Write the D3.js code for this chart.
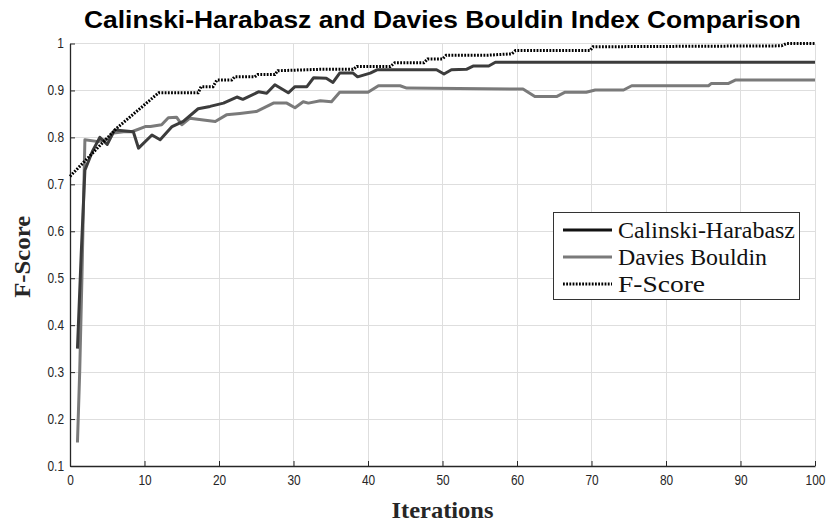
<!DOCTYPE html>
<html><head><meta charset="utf-8">
<script src="https://cdn.jsdelivr.net/npm/d3@7/dist/d3.min.js"></script>
<style>body{margin:0;background:#fff}svg{display:block}</style>
</head><body>
<svg id="chart" width="831" height="523"></svg>
<script>
const title = "Calinski-Harabasz and Davies Bouldin Index Comparison";
const xLabel = "Iterations";
const yLabel = "F-Score";
const xTicks = [0,10,20,30,40,50,60,70,80,90,100];
const yTicks = [0.1,0.2,0.3,0.4,0.5,0.6,0.7,0.8,0.9,1];
const seriesNames = ["Calinski-Harabasz","Davies Bouldin","F-Score"];

const chIter = [1,1.5,2,3,4,5,6,8.5,9.2,11,12.1,13.7,15.2,17.2,18.8,20.6,22.4,23.2,25.3,26.4,27.5,29.3,30.2,31.8,32.7,34.4,35.3,36.2,38,38.6,40.3,41.2,49.2,50.2,51.2,53.2,54.1,56.2,57.1,100];
const chVal  = [0.35,0.55,0.73,0.77,0.80,0.785,0.816,0.812,0.777,0.805,0.795,0.823,0.834,0.861,0.866,0.873,0.886,0.881,0.897,0.894,0.912,0.895,0.908,0.908,0.927,0.926,0.917,0.937,0.937,0.929,0.937,0.944,0.944,0.935,0.944,0.945,0.952,0.952,0.96,0.96];

const dbIter = [1,1.3,1.6,1.8,2,3.8,5.2,5.6,7.2,8.3,10.1,10.8,12.3,13.2,14.3,15,16.1,17.9,19.5,21,22.8,25,27.3,29.1,30.2,31.3,32,33.6,35.1,36.2,40,41.4,44.3,45.2,60.8,62.4,65.3,66.4,69.3,70.5,74.3,75.4,85.7,86.1,88.4,89.3,100];
const dbVal  = [0.15,0.30,0.50,0.65,0.795,0.791,0.797,0.809,0.812,0.812,0.823,0.823,0.827,0.842,0.843,0.827,0.841,0.837,0.834,0.848,0.851,0.855,0.873,0.873,0.863,0.876,0.873,0.878,0.876,0.896,0.896,0.91,0.91,0.905,0.903,0.887,0.887,0.896,0.896,0.901,0.901,0.91,0.91,0.915,0.915,0.922,0.922];

const fsIter = [0,6.3,11.9,17.2,17.6,19.2,19.7,21.7,22.1,24.8,25.2,27.5,27.9,33.6,38,38.5,43,43.6,47.5,48,50,50.5,56,59.3,59.8,69.8,70.2,95.5,96.2,100];
const fsVal  = [0.717,0.82,0.895,0.895,0.908,0.908,0.922,0.922,0.929,0.929,0.934,0.934,0.942,0.945,0.945,0.951,0.951,0.959,0.959,0.967,0.967,0.975,0.975,0.978,0.985,0.985,0.993,0.995,1.0,1.0];

const svg = d3.select("#chart");
const L = 70, R = 815, T = 43.5, B = 466;
const x = d3.scaleLinear().domain([0,100]).range([L,R]);
const y = d3.scaleLinear().domain([0.1,1]).range([B,T]);
const tickFont = "'Liberation Sans Narrow','Arial Narrow','Liberation Sans',Arial,sans-serif";

// grid
svg.append("g").selectAll("line").data(xTicks).join("line")
  .attr("x1",d=>x(d)).attr("x2",d=>x(d)).attr("y1",T).attr("y2",B)
  .attr("stroke","#dedede").attr("stroke-width",1).attr("shape-rendering","crispEdges");
svg.append("g").selectAll("line").data(yTicks).join("line")
  .attr("x1",L).attr("x2",R).attr("y1",d=>y(d)).attr("y2",d=>y(d))
  .attr("stroke","#dedede").attr("stroke-width",1).attr("shape-rendering","crispEdges");

// axes
const xAxis = svg.append("g").attr("transform",`translate(0,${B})`)
  .call(d3.axisBottom(x).tickValues(xTicks).tickSizeInner(-5).tickSizeOuter(0).tickPadding(9).tickFormat(d3.format("d")));
const yAxis = svg.append("g").attr("transform",`translate(${L},0)`)
  .call(d3.axisLeft(y).tickValues(yTicks).tickSizeInner(-5).tickSizeOuter(0).tickPadding(6).tickFormat(d=>d===1?"1":d.toFixed(1)));
[xAxis,yAxis].forEach(a=>{
  a.select(".domain").attr("stroke","#262626").attr("stroke-width",1.3);
  a.selectAll(".tick line").attr("stroke","#262626").attr("stroke-width",1);
  a.selectAll(".tick text").attr("fill","#262626").attr("font-size",14).attr("font-family",tickFont)
    .attr("textLength",function(){ return this.getComputedTextLength()*0.85; }).attr("lengthAdjust","spacingAndGlyphs");
});

// lines
const mk = (xs,vs)=>xs.map((d,i)=>[d,vs[i]]);
const line = d3.line().x(d=>x(d[0])).y(d=>y(d[1]));
svg.append("path").datum(mk(dbIter,dbVal)).attr("d",line)
  .attr("fill","none").attr("stroke","#7a7a7a").attr("stroke-width",3).attr("stroke-linejoin","round");
svg.append("path").datum(mk(chIter,chVal)).attr("d",line)
  .attr("fill","none").attr("stroke","#3c3c3c").attr("stroke-width",3).attr("stroke-linejoin","round");
svg.append("path").datum(mk(fsIter,fsVal)).attr("d",line)
  .attr("fill","none").attr("stroke","#000").attr("stroke-width",3).attr("stroke-dasharray","1.8,1.4");

// title
svg.append("text").attr("x",(L+R)/2).attr("y",28).attr("text-anchor","middle")
  .attr("font-family","'Liberation Sans',Arial,sans-serif").attr("font-weight","bold").attr("font-size",24)
  .attr("textLength",717).attr("lengthAdjust","spacingAndGlyphs").attr("fill","#000").text(title);

// axis labels
svg.append("text").attr("x",(L+R)/2).attr("y",518).attr("text-anchor","middle")
  .attr("font-family","'Liberation Serif','Times New Roman',serif").attr("font-weight","bold").attr("font-size",24)
  .attr("textLength",102).attr("lengthAdjust","spacingAndGlyphs")
  .attr("fill","#262626").text(xLabel);
svg.append("text").attr("transform",`translate(30,${(T+B)/2+2}) rotate(-90)`).attr("text-anchor","middle")
  .attr("font-family","'Liberation Serif','Times New Roman',serif").attr("font-weight","bold").attr("font-size",24)
  .attr("textLength",82).attr("lengthAdjust","spacingAndGlyphs")
  .attr("fill","#262626").text(yLabel);

// legend
const lg = svg.append("g");
lg.append("rect").attr("x",553.5).attr("y",212.5).attr("width",246).attr("height",87)
  .attr("fill","#fff").attr("stroke","#333").attr("stroke-width",1);
const styles = [
  {stroke:"#111",w:3,dash:null},
  {stroke:"#7a7a7a",w:3,dash:null},
  {stroke:"#000",w:3,dash:"1.8,1.4"}
];
seriesNames.forEach((n,i)=>{
  const yy = 230 + i*27;
  lg.append("line").attr("x1",563).attr("x2",612).attr("y1",yy).attr("y2",yy)
    .attr("stroke",styles[i].stroke).attr("stroke-width",styles[i].w).attr("stroke-dasharray",styles[i].dash);
  lg.append("text").attr("x",618).attr("y",yy+8).attr("font-family","'Liberation Serif','Times New Roman',serif")
    .attr("font-size",24).attr("fill","#111").attr("textLength",[177,149,87][i]).attr("lengthAdjust","spacingAndGlyphs").text(n);
});
</script>
</body></html>
